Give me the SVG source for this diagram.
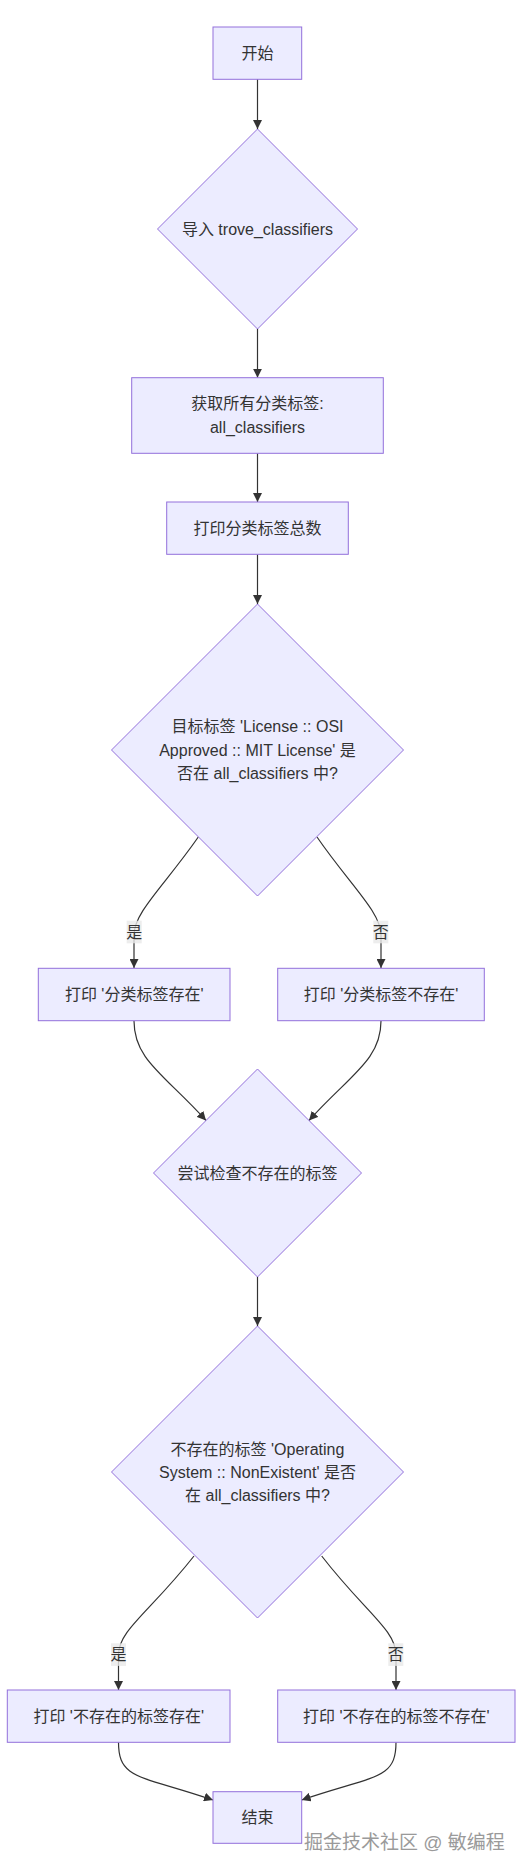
<svg xmlns="http://www.w3.org/2000/svg" width="526" height="1871" viewBox="0 0 526 1871">
<style>
.node rect,.node polygon{fill:#ECECFF;stroke:#9370DB;stroke-width:1}
text{font-family:"Liberation Sans","Noto Sans CJK SC",sans-serif;font-size:16px;fill:#333;text-anchor:middle;dominant-baseline:central}
.edge{fill:none;stroke:#333;stroke-width:1.2}
.lbg{fill:#e8e8e8;opacity:0.8}
.wm{font-size:19px;fill:#9a9a9a;text-anchor:start}
</style>
<defs>
<marker id="arr" viewBox="0 0 10 10" refX="10" refY="5" markerWidth="9" markerHeight="9" markerUnits="userSpaceOnUse" orient="auto">
<path d="M0,0 L10,5 L0,10 z" fill="#333"/>
</marker>
</defs>
<rect width="526" height="1871" fill="#fff"/>
<g id="connectors">
<path class="edge" d="M257.5,79 L257.5,129" marker-end="url(#arr)"/>
<path class="edge" d="M257.5,329 L257.5,377.7" marker-end="url(#arr)"/>
<path class="edge" d="M257.5,453.3 L257.5,502" marker-end="url(#arr)"/>
<path class="edge" d="M257.5,554.3 L257.5,604" marker-end="url(#arr)"/>
<path class="edge" d="M198.3,837 C165,885 134,912 134,935 L134,968" marker-end="url(#arr)"/>
<path class="edge" d="M317,837 C350,885 381,912 381,935 L381,968" marker-end="url(#arr)"/>
<path class="edge" d="M134,1021 C134,1060 165,1075 206,1120.5" marker-end="url(#arr)"/>
<path class="edge" d="M381,1021 C381,1060 350,1075 309,1120.5" marker-end="url(#arr)"/>
<path class="edge" d="M257.5,1277 L257.5,1326" marker-end="url(#arr)"/>
<path class="edge" d="M194,1556 C150,1612 118.5,1630 118.5,1655 L118.5,1690" marker-end="url(#arr)"/>
<path class="edge" d="M321.7,1556 C365,1612 396,1630 396,1655 L396,1690" marker-end="url(#arr)"/>
<path class="edge" d="M118.5,1742.3 C118.5,1780 140,1775 213,1800" marker-end="url(#arr)"/>
<path class="edge" d="M396,1742.3 C396,1780 375,1775 301.7,1800" marker-end="url(#arr)"/>
<g id="edge-labels">
<rect class="lbg" x="126.7" y="920.7" width="15" height="22.6"/>
<text x="134.2" y="932">是</text>
<rect class="lbg" x="373.3" y="920.7" width="15" height="22.6"/>
<text x="380.8" y="932">否</text>
<rect class="lbg" x="111" y="1643.3" width="15" height="22.6"/>
<text x="118.5" y="1654.6">是</text>
<rect class="lbg" x="388.3" y="1643.3" width="15" height="22.6"/>
<text x="395.8" y="1654.6">否</text>
</g>
</g>
<g id="start" class="node"><rect x="213" y="27" width="88.7" height="52.3"/><text x="257.5" y="53">开始</text></g>
<g id="import" class="node"><polygon points="257.5,129 357.5,229 257.5,329 157.5,229"/><text x="257.5" y="229">导入 trove_classifiers</text></g>
<g id="getall" class="node"><rect x="131.7" y="377.7" width="251.6" height="75.6"/><text x="257.5" y="403.5">获取所有分类标签:</text><text x="257.5" y="427">all_classifiers</text></g>
<g id="printcount" class="node"><rect x="166.7" y="502" width="181.6" height="52.3"/><text x="257.5" y="528">打印分类标签总数</text></g>
<g id="check1" class="node"><polygon points="257.5,604 403.5,750 257.5,896 111.5,750"/><text x="257.5" y="726">目标标签 'License :: OSI</text><text x="257.5" y="750">Approved :: MIT License' 是</text><text x="257.5" y="773">否在 all_classifiers 中?</text></g>
<g id="yes1" class="node"><rect x="38.3" y="968.3" width="191.7" height="52.4"/><text x="134.2" y="994.5">打印 '分类标签存在'</text></g>
<g id="no1" class="node"><rect x="277.7" y="968.3" width="206.6" height="52.4"/><text x="381" y="994.5">打印 '分类标签不存在'</text></g>
<g id="try" class="node"><polygon points="257.5,1069 361.5,1173 257.5,1277 153.5,1173"/><text x="257.5" y="1173">尝试检查不存在的标签</text></g>
<g id="check2" class="node"><polygon points="257.5,1326 403.5,1472 257.5,1618 111.5,1472"/><text x="257.5" y="1449">不存在的标签 'Operating</text><text x="257.5" y="1472">System :: NonExistent' 是否</text><text x="257.5" y="1495">在 all_classifiers 中?</text></g>
<g id="yes2" class="node"><rect x="7.3" y="1690" width="222.7" height="52.3"/><text x="118.7" y="1716">打印 '不存在的标签存在'</text></g>
<g id="no2" class="node"><rect x="277.7" y="1690" width="237.3" height="52.3"/><text x="396.3" y="1716">打印 '不存在的标签不存在'</text></g>
<g id="end" class="node"><rect x="213" y="1791.7" width="88.7" height="51.6"/><text x="257.5" y="1817.5">结束</text></g>
<text class="wm" x="304" y="1842">掘金技术社区 @ 敏编程</text>
</svg>
